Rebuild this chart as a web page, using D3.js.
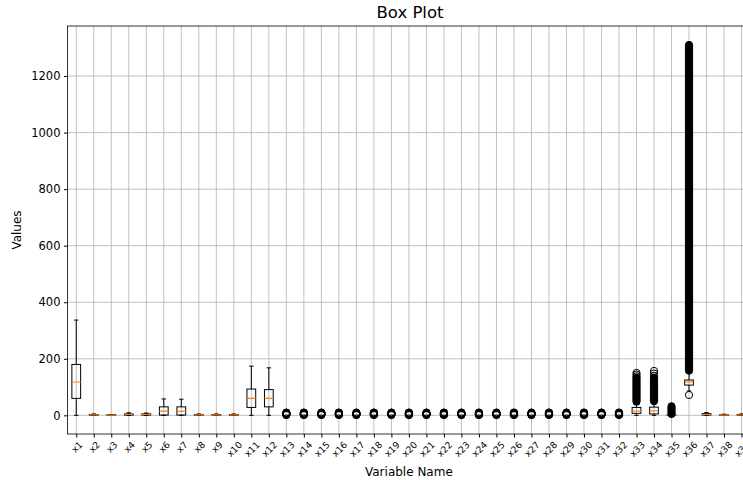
<!DOCTYPE html>
<html><head><meta charset="utf-8">
<script src="https://cdn.jsdelivr.net/npm/d3@7"></script>
<style>body{margin:0;background:#fff;overflow:hidden}svg{display:block}text{font-family:"DejaVu Sans",sans-serif;fill:#000}</style>
</head><body><svg id="c" width="743" height="480"></svg>
<script>
const categories = ["x1","x2","x3","x4","x5","x6","x7","x8","x9","x10","x11","x12","x13","x14","x15","x16","x17","x18","x19","x20","x21","x22","x23","x24","x25","x26","x27","x28","x29","x30","x31","x32","x33","x34","x35","x36","x37","x38","x39"];
const whiskerLow  = [0,0,0,0,0,0,0,0,0,0,0,0, 0,0,0,0,0,0,0,0,0,0,0,0,0,0,0,0,0,0,0,0, 0,0,0,86,0,0,0];
const q1          = [60,0.5,0.3,1,1,1,1,0.5,0.5,0.5,28,30, 0,0,0,0,0,0,0,0,0,0,0,0,0,0,0,0,0,0,0,0, 7,5,0,107,1,0.5,0.5];
const median      = [118,1.5,1,3,3,15,14,1.5,1.5,1.5,60,60, 0,0,0,0,0,0,0,0,0,0,0,0,0,0,0,0,0,0,0,0, 15,16,1,118,3,1,1.5];
const q3          = [180,3,2,5,5,30,30,3,3,3,93,91, 0,0,0,0,0,0,0,0,0,0,0,0,0,0,0,0,0,0,0,0, 28,29,2,125,6,2,3];
const whiskerHigh = [337,5,3,9,8,58,57,5,5,5,174,168, 0,0,0,0,0,0,0,0,0,0,0,0,0,0,0,0,0,0,0,0, 45,47,4,152,10,4,5];
// individual flier values (hollow circles)
const smallFliers = [1,2,3,4,5,6,7,8,9,10];
const fliers = [[],[],[],[],[],[],[],[],[],[],[],[],
  smallFliers,smallFliers,smallFliers,smallFliers,smallFliers,smallFliers,smallFliers,smallFliers,smallFliers,smallFliers,
  smallFliers,smallFliers,smallFliers,smallFliers,smallFliers,smallFliers,smallFliers,smallFliers,smallFliers,smallFliers,
  [138,144,150],[140,148,157],[],[72],[],[],[]];
// dense runs of fliers (continuous columns of overlapping circles): low and high values
const denseLow  = [null,null,null,null,null,null,null,null,null,null,null,null, null,null,null,null,null,null,null,null,null,null,null,null,null,null,null,null,null,null,null,null, 48,50,5,158,null,null,null];
const denseHigh = [null,null,null,null,null,null,null,null,null,null,null,null, null,null,null,null,null,null,null,null,null,null,null,null,null,null,null,null,null,null,null,null, 133,133,32,1310,null,null,null];
const yTicks = [0,200,400,600,800,1000,1200];

const svg = d3.select("#c");
const L = 67.5, R = 750.3, T = 26, B = 434;
const x = d3.scaleLinear().domain([0.5, categories.length + 0.5]).range([L, R]);
const y = d3.scaleLinear().domain([-66, 1377]).range([B, T]);
const pos = categories.map((c, i) => i + 1);
const boxHalf = (x(1.25) - x(1));
const capHalf = boxHalf / 2;
const fr = 3.6;

const clip = svg.append("defs").append("clipPath").attr("id", "pc");
clip.append("rect").attr("x", L).attr("y", T).attr("width", R - L).attr("height", B - T);

// grid
const grid = svg.append("g").attr("stroke", "#b0b0b0").attr("stroke-width", 0.8);
grid.selectAll(".gx").data(pos).join("line")
  .attr("x1", d => x(d)).attr("x2", d => x(d)).attr("y1", T).attr("y2", B);
grid.selectAll(".gy").data(yTicks).join("line")
  .attr("x1", L).attr("x2", R).attr("y1", d => y(d)).attr("y2", d => y(d));

const plot = svg.append("g").attr("clip-path", "url(#pc)");
const items = categories.map((c, i) => ({
  p: i + 1, lo: whiskerLow[i], q1: q1[i], med: median[i], q3: q3[i], hi: whiskerHigh[i],
  fl: fliers[i], dl: denseLow[i], dh: denseHigh[i]
}));
const g = plot.selectAll("g.box").data(items).join("g").attr("class", "box");
// whiskers
g.append("line").attr("x1", d => x(d.p)).attr("x2", d => x(d.p)).attr("y1", d => y(d.lo)).attr("y2", d => y(d.q1)).attr("stroke", "#000");
g.append("line").attr("x1", d => x(d.p)).attr("x2", d => x(d.p)).attr("y1", d => y(d.q3)).attr("y2", d => y(d.hi)).attr("stroke", "#000");
// caps
g.append("line").attr("x1", d => x(d.p) - capHalf).attr("x2", d => x(d.p) + capHalf).attr("y1", d => y(d.lo)).attr("y2", d => y(d.lo)).attr("stroke", "#000");
g.append("line").attr("x1", d => x(d.p) - capHalf).attr("x2", d => x(d.p) + capHalf).attr("y1", d => y(d.hi)).attr("y2", d => y(d.hi)).attr("stroke", "#000");
// boxes
g.append("rect").attr("x", d => x(d.p) - boxHalf).attr("width", boxHalf * 2)
  .attr("y", d => y(d.q3)).attr("height", d => Math.max(0, y(d.q1) - y(d.q3)))
  .attr("fill", "none").attr("stroke", "#000");
// medians
g.append("line").attr("x1", d => x(d.p) - boxHalf).attr("x2", d => x(d.p) + boxHalf).attr("y1", d => y(d.med)).attr("y2", d => y(d.med)).attr("stroke", "#ff7f0e").attr("stroke-width", 1.2);
// dense flier columns
g.filter(d => d.dl != null).append("rect")
  .attr("x", d => x(d.p) - fr).attr("width", fr * 2)
  .attr("y", d => y(d.dh) - fr).attr("height", d => y(d.dl) - y(d.dh) + 2 * fr)
  .attr("rx", fr).attr("ry", fr).attr("fill", "#000").attr("stroke", "#000");
// individual fliers
g.each(function(d) {
  d3.select(this).selectAll("circle").data(d.fl).join("circle")
    .attr("cx", x(d.p)).attr("cy", v => y(v)).attr("r", fr)
    .attr("fill", "none").attr("stroke", "#000");
});

// frame
svg.append("rect").attr("x", L).attr("y", T).attr("width", R - L).attr("height", B - T)
  .attr("fill", "none").attr("stroke", "#000").attr("stroke-width", 0.8);

// y axis
const ya = svg.append("g").attr("transform", `translate(${L},0)`)
  .call(d3.axisLeft(y).tickValues(yTicks).tickFormat(d3.format("d")).tickSize(3.5).tickPadding(3.5));
ya.select(".domain").remove();
ya.selectAll("text").attr("font-size", 11.5).attr("font-family", "DejaVu Sans");
ya.selectAll("line").attr("stroke", "#000");

// x axis
const xa = svg.append("g").attr("transform", `translate(0,${B})`)
  .call(d3.axisBottom(x).tickValues(pos).tickFormat(d => categories[d - 1]).tickSize(3.5));
xa.select(".domain").remove();
xa.selectAll("line").attr("stroke", "#000");
xa.selectAll("text").each(function() {
  const t = d3.select(this);
  t.attr("font-size", 9.2).attr("font-family", "DejaVu Sans").attr("dy", null).attr("y", 0)
   .attr("text-anchor", "middle").attr("dominant-baseline", "central");
  const w = this.getComputedTextLength();
  const h = 6.8;
  const cy = 3.5 + 3 + (w + h) / (2 * Math.SQRT2);
  t.attr("transform", `translate(0,${cy}) rotate(-45)`);
});

// labels
svg.append("text").attr("x", 410).attr("y", 18.3).attr("text-anchor", "middle").attr("font-size", 16.5).text("Box Plot");
svg.append("text").attr("x", (L + 750.3) / 2).attr("y", 475.5).attr("text-anchor", "middle").attr("font-size", 12).text("Variable Name");
svg.append("text").attr("transform", `translate(21,${(T + B) / 2}) rotate(-90)`).attr("text-anchor", "middle").attr("font-size", 12).text("Values");
</script></body></html>
